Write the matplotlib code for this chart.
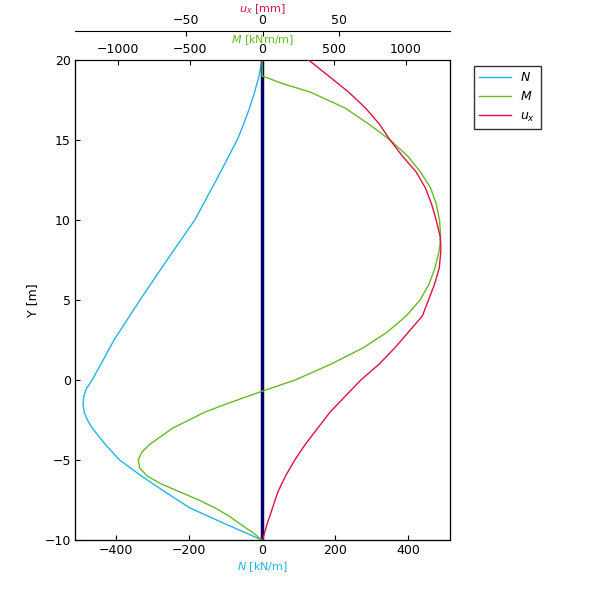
import matplotlib
matplotlib.use("Agg")
import matplotlib.pyplot as plt

# values
y_N = [20, 19, 18, 17, 16, 15, 12.5, 10, 7.5, 5, 2.5, 0, -0.5, -1, -1.5, -2, -2.5, -3, -4, -5, -6, -7, -8, -9, -10]
N = [0, -8, -20, -34, -50, -68, -125, -184, -260, -334, -405, -465, -480, -488, -490, -487, -478, -465, -430, -390, -330, -265, -197, -100, 0]

y_M = [20, 19, 18.5, 18, 17, 16, 15, 14, 13, 12, 11, 10, 9, 8.5, 8, 7, 6, 5, 4, 3, 2, 1, 0, -0.7, -1.5, -2, -3, -4, -4.5, -5, -5.5, -6, -6.5, -7, -7.5, -8, -8.5, -9, -9.5, -10]
M = [0, 0, 150, 333, 576, 740, 889, 1010, 1100, 1170, 1210, 1232, 1240, 1236, 1228, 1200, 1160, 1097, 1000, 870, 700, 480, 230, 0, -250, -396, -620, -778, -835, -861, -850, -800, -700, -570, -440, -326, -230, -153, -70, 0]

y_u = [20, 19, 18, 17, 16, 15, 14, 13, 12, 11, 10, 9, 8.5, 8, 7, 6, 5, 4, 3, 2, 1, 0, -1, -2, -3, -4, -5, -6, -7, -8, -9, -10]
u = [30, 43, 56, 67, 76, 83, 91, 100, 106, 110, 113, 115.5, 116, 116, 115, 112, 108, 104, 95, 86, 76, 64, 54, 44, 36, 28, 21, 15, 10, 6.5, 3, 0]

c_N = "#22b4e8"
c_M = "#66bb22"
c_u = "#dd1144"

fig = plt.figure(figsize=(6, 6), dpi=100)
ax = fig.add_axes([0.125, 0.1, 0.625, 0.8])
axM = ax.twiny()
axu = ax.twiny()

lN, = ax.plot(N, y_N, color=c_N, lw=1, label="$N$")
lM, = axM.plot(M, y_M, color=c_M, lw=1, label="$M$")
lu, = axu.plot(u, y_u, color=c_u, lw=1, label="$u_x$")
ax.axvline(0, color="#000066", lw=2.5)

ax.set_xlim(-512, 515)
axM.set_xlim(-1300, 1305)
axu.set_xlim(-122, 122)
ax.set_ylim(-10, 20)
ax.set_xticks([-400, -200, 0, 200, 400])
axM.set_xticks([-1000, -500, 0, 500, 1000])
axu.set_xticks([-50, 0, 50])

axu.spines["top"].set_position(("outward", 21))
for a in (ax, axM, axu):
    a.tick_params(labelsize=9, direction="in", pad=3)
ax.tick_params(axis="y", labelsize=9)

ax.set_xlabel("$N$ [kN/m]", color=c_N, fontsize=8, labelpad=2)
axM.set_xlabel("$M$ [kNm/m]", color=c_M, fontsize=8, labelpad=0)
axu.set_xlabel("$u_x$ [mm]", color=c_u, fontsize=8, labelpad=1)
ax.set_ylabel("Y [m]", fontsize=9)

fig.legend([lN, lM, lu], ["$N$", "$M$", "$u_x$"], loc="upper left",
           bbox_to_anchor=(0.78, 0.9), fontsize=9, frameon=True, fancybox=False,
           edgecolor="black", handlelength=2.5)

fig.savefig("out.png", dpi=100)
